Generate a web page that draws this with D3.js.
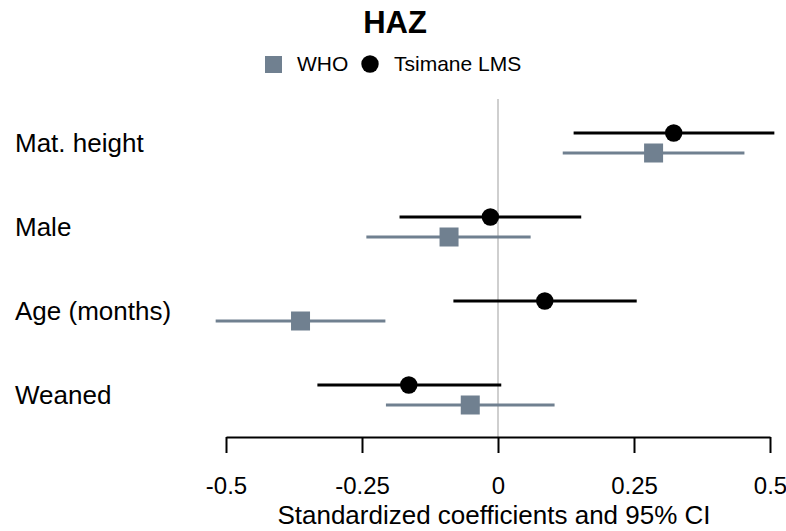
<!DOCTYPE html>
<html>
<head>
<meta charset="utf-8">
<script src="https://cdn.jsdelivr.net/npm/d3@7"></script>
<style>
  html, body { margin: 0; padding: 0; background: #fff; }
  svg { display: block; font-family: "Liberation Sans", Arial, Helvetica, sans-serif; }
</style>
</head>
<body>
<svg id="chart" width="786" height="531"></svg>
<script>
const categories = ["Mat. height", "Male", "Age (months)", "Weaned"];
const seriesNames = ["WHO", "Tsimane LMS"];
const tsimaneEst = [0.323, -0.014, 0.086, -0.164];
const tsimaneLo  = [0.139, -0.181, -0.082, -0.332];
const tsimaneHi  = [0.508, 0.153, 0.255, 0.006];
const whoEst = [0.286, -0.090, -0.363, -0.051];
const whoLo  = [0.119, -0.242, -0.519, -0.206];
const whoHi  = [0.453, 0.060, -0.207, 0.104];
const tickValues = [-0.5, -0.25, 0, 0.25, 0.5];
const tickLabels = ["-0.5", "-0.25", "0", "0.25", "0.5"];

const grayColor = "#708090";
const svg = d3.select("#chart");

const x = d3.scaleLinear().domain([-0.5, 0.5]).range([226, 770]);
const y = d3.scalePoint().domain(categories).range([143, 395]);
const axisY = 437;
const off = 10;

// title
svg.append("text").attr("x", 395).attr("y", 33).attr("text-anchor", "middle")
  .attr("font-size", 31).attr("font-weight", "bold").text("HAZ");

// legend
svg.append("rect").attr("x", 265).attr("y", 56).attr("width", 17).attr("height", 17)
  .attr("fill", grayColor);
svg.append("text").attr("x", 297).attr("y", 71).attr("font-size", 21).text(seriesNames[0]);
svg.append("circle").attr("cx", 370).attr("cy", 64).attr("r", 8.7).attr("fill", "#000");
svg.append("text").attr("x", 394).attr("y", 71).attr("font-size", 21).text(seriesNames[1]);

// zero reference line
svg.append("line").attr("x1", x(0)).attr("x2", x(0)).attr("y1", 99).attr("y2", axisY)
  .attr("stroke", "#cfcfcf").attr("stroke-width", 2);

// category labels
svg.append("g").selectAll("text").data(categories).join("text")
  .attr("x", 15).attr("y", d => y(d)).attr("dy", "0.35em")
  .attr("font-size", 26).attr("fill", "#000").text(d => d);

const who = categories.map((c, i) => ({c, est: whoEst[i], lo: whoLo[i], hi: whoHi[i]}));
const tsi = categories.map((c, i) => ({c, est: tsimaneEst[i], lo: tsimaneLo[i], hi: tsimaneHi[i]}));

// WHO series
const gW = svg.append("g");
gW.selectAll("line").data(who).join("line")
  .attr("x1", d => x(d.lo)).attr("x2", d => x(d.hi))
  .attr("y1", d => y(d.c) + off).attr("y2", d => y(d.c) + off)
  .attr("stroke", grayColor).attr("stroke-width", 3);
gW.selectAll("rect").data(who).join("rect")
  .attr("x", d => x(d.est) - 9.5).attr("y", d => y(d.c) + off - 9.5)
  .attr("width", 19).attr("height", 19).attr("fill", grayColor);

// Tsimane series
const gT = svg.append("g");
gT.selectAll("line").data(tsi).join("line")
  .attr("x1", d => x(d.lo)).attr("x2", d => x(d.hi))
  .attr("y1", d => y(d.c) - off).attr("y2", d => y(d.c) - off)
  .attr("stroke", "#000").attr("stroke-width", 3);
gT.selectAll("circle").data(tsi).join("circle")
  .attr("cx", d => x(d.est)).attr("cy", d => y(d.c) - off)
  .attr("r", 8.7).attr("fill", "#000");

// x axis
const axis = d3.axisBottom(x).tickValues(tickValues)
  .tickFormat((d, i) => tickLabels[i]).tickSize(16).tickSizeOuter(0).tickPadding(24);
const gA = svg.append("g").attr("transform", `translate(0,${axisY})`).call(axis);
gA.select(".domain").attr("stroke", "#000").attr("stroke-width", 2);
gA.selectAll(".tick line").attr("stroke", "#000").attr("stroke-width", 2);
gA.selectAll(".tick text").attr("font-size", 24).attr("fill", "#000")
  .attr("font-family", "'Liberation Sans', Arial, Helvetica, sans-serif");

svg.append("text").attr("x", 494).attr("y", 524).attr("text-anchor", "middle")
  .attr("font-size", 26).text("Standardized coefficients and 95% CI");
</script>
</body>
</html>
